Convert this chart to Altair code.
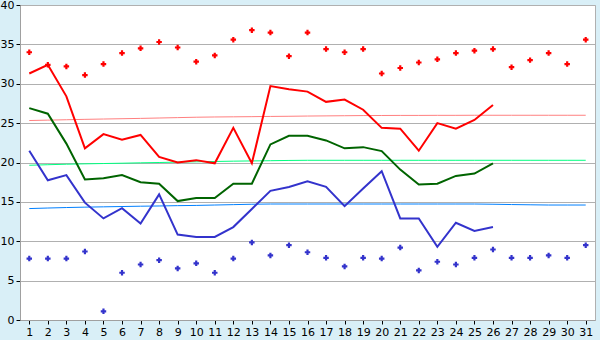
import altair as alt
import pandas as pd

days = list(range(1, 32))

# daily observed (days 1-26)
obs_max = [31.3, 32.4, 28.4, 21.8, 23.6, 22.9, 23.5, 20.7, 20.0, 20.3,
           19.9, 24.4, 19.9, 29.7, 29.3, 29.0, 27.7, 28.0, 26.7, 24.4,
           24.3, 21.5, 25.0, 24.3, 25.4, 27.3]
obs_mean = [26.9, 26.2, 22.4, 17.85, 18.0, 18.4, 17.5, 17.3, 15.1, 15.5,
            15.5, 17.3, 17.3, 22.3, 23.4, 23.4, 22.8, 21.8, 21.95, 21.45,
            19.1, 17.2, 17.3, 18.3, 18.6, 19.9]
obs_min = [21.5, 17.75, 18.4, 14.9, 12.9, 14.2, 12.25, 15.95, 10.85, 10.55,
           10.55, 11.8, 14.1, 16.4, 16.9, 17.6, 16.9, 14.45, 16.7, 18.9,
           12.9, 12.9, 9.3, 12.35, 11.3, 11.8]

# record values (all days)
rec_max = [34.0, 32.4, 32.2, 31.1, 32.5, 33.9, 34.5, 35.3, 34.6, 32.8,
           33.6, 35.6, 36.8, 36.5, 33.5, 36.5, 34.4, 34.0, 34.4, 31.3,
           32.0, 32.7, 33.1, 33.9, 34.2, 34.4, 32.1, 33.0, 33.9, 32.5, 35.6]
rec_min = [7.8, 7.8, 7.8, 8.7, 1.1, 6.0, 7.05, 7.6, 6.55, 7.2,
           6.0, 7.8, 9.85, 8.2, 9.5, 8.6, 7.9, 6.8, 7.9, 7.8,
           9.2, 6.3, 7.4, 7.05, 7.9, 8.95, 7.9, 7.9, 8.2, 7.9, 9.5]

# normals (all days)
norm_max = [25.33, 25.38, 25.43, 25.48, 25.52, 25.56, 25.60, 25.65, 25.70, 25.75,
            25.78, 25.80, 25.82, 25.85, 25.87, 25.90, 25.92, 25.94, 25.96, 25.97,
            25.98, 25.98, 25.99, 25.99, 26.0, 26.0, 26.0, 26.0, 26.0, 26.0, 26.0]
norm_mean = [19.65, 19.72, 19.78, 19.83, 19.87, 19.91, 19.96, 20.0, 20.05, 20.09,
             20.13, 20.17, 20.20, 20.23, 20.26, 20.28, 20.28, 20.28, 20.28, 20.28,
             20.28, 20.28, 20.28, 20.28, 20.28, 20.28, 20.28, 20.28, 20.28, 20.28, 20.28]
norm_min = [14.15, 14.22, 14.28, 14.33, 14.37, 14.41, 14.45, 14.48, 14.52, 14.55,
            14.60, 14.65, 14.70, 14.73, 14.73, 14.73, 14.73, 14.73, 14.73, 14.73,
            14.73, 14.73, 14.73, 14.73, 14.73, 14.70, 14.66, 14.63, 14.60, 14.60, 14.60]

y_ticks = list(range(0, 41, 5))

full = pd.DataFrame({"day": days, "rec_max": rec_max, "rec_min": rec_min,
                     "norm_max": norm_max, "norm_mean": norm_mean, "norm_min": norm_min})
obs = pd.DataFrame({"day": days[:len(obs_max)], "obs_max": obs_max,
                    "obs_mean": obs_mean, "obs_min": obs_min})

xenc = alt.X("day:Q", scale=alt.Scale(domain=[0.5, 31.5], nice=False, zero=False),
             axis=alt.Axis(values=days, grid=False, title=None, format="d",
                           tickSize=4, tickColor="#000000", labelPadding=2,
                           domainColor="#a0a0a0", labelFont="DejaVu Sans",
                           labelFontSize=11, labelColor="#000000"))


def yenc(field):
    return alt.Y(f"{field}:Q", scale=alt.Scale(domain=[0, 40], nice=False),
                 axis=alt.Axis(values=y_ticks, grid=True, gridColor="#b0b0b0",
                               title=None, tickSize=4, tickColor="#000000",
                               labelPadding=2, domainColor="#a0a0a0",
                               labelFont="DejaVu Sans", labelFontSize=11,
                               labelColor="#000000"))


base_full = alt.Chart(full)
base_obs = alt.Chart(obs)

layers = [
    base_full.mark_line(color="#ff8080", strokeWidth=1).encode(x=xenc, y=yenc("norm_max")),
    base_full.mark_line(color="#00ff80", strokeWidth=1).encode(x=xenc, y=yenc("norm_mean")),
    base_full.mark_line(color="#0080ff", strokeWidth=1).encode(x=xenc, y=yenc("norm_min")),
    base_obs.mark_line(color="#ff0000", strokeWidth=2).encode(x=xenc, y=yenc("obs_max")),
    base_obs.mark_line(color="#006400", strokeWidth=2).encode(x=xenc, y=yenc("obs_mean")),
    base_obs.mark_line(color="#3333cc", strokeWidth=2).encode(x=xenc, y=yenc("obs_min")),
    base_full.mark_point(shape="cross", filled=True, color="#ff0000", size=30, opacity=1).encode(x=xenc, y=yenc("rec_max")),
    base_full.mark_point(shape="cross", filled=True, color="#3333cc", size=30, opacity=1).encode(x=xenc, y=yenc("rec_min")),
]

chart = alt.layer(*layers).properties(
    width=575, height=315,
    background="#d9eff7",
    padding={"left": 20, "top": 5, "right": 5, "bottom": 20},
    autosize=alt.AutoSizeParams(type="none"),
).configure_view(stroke="#b0b0b0", strokeWidth=1, fill="#ffffff")

chart.save("out.html", embed_options={"renderer": "svg", "actions": False})
